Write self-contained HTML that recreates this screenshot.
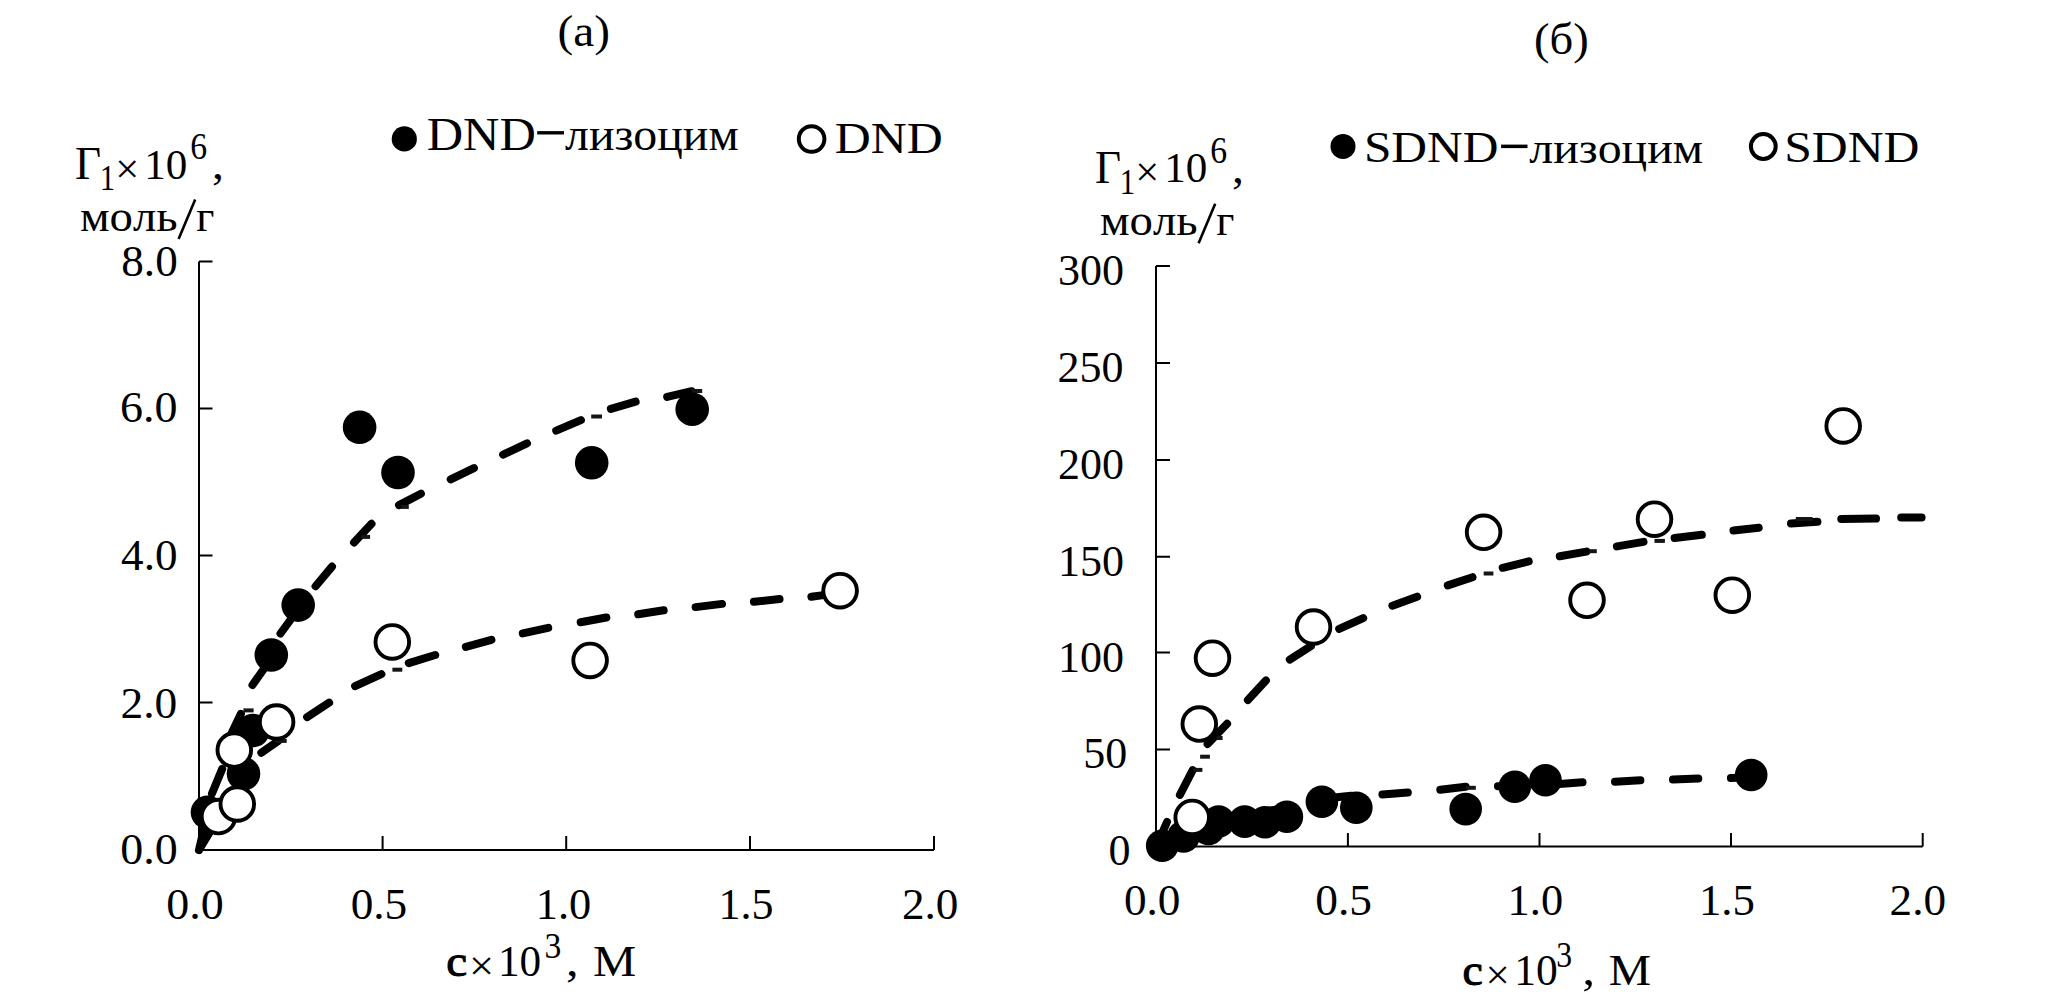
<!DOCTYPE html>
<html><head><meta charset="utf-8"><title>Chart</title>
<style>
html,body{margin:0;padding:0;background:#fff;width:2067px;height:1002px;overflow:hidden}
svg{display:block}
text{font-family:"Liberation Serif",serif;font-kerning:none;fill:#000}
</style></head><body>
<svg width="2067" height="1002" viewBox="0 0 2067 1002">
<rect width="2067" height="1002" fill="#fff"/>
<text transform="translate(557.42 46.00) scale(1.0644 1)" font-size="44.4">(a)</text>
<text transform="translate(1533.95 54.00) scale(1.0530 1)" font-size="44.3">(б)</text>
<circle cx="404.3" cy="138.9" r="12.6"/>
<text transform="translate(426.65 150.00) scale(1.1099 1)" font-size="45.4">DND</text>
<rect x="537.2" y="131.1" width="26.8" height="3.4"/>
<text transform="translate(565.03 150.00) scale(1.0532 1)" font-size="45.4">лизоцим</text>
<circle cx="811.6" cy="139" r="12.8" fill="none" stroke="#000" stroke-width="4"/>
<text transform="translate(834.86 153.30) scale(1.1220 1)" font-size="44.4">DND</text>
<circle cx="1343" cy="146.4" r="12.5"/>
<text transform="translate(1363.89 162.40) scale(1.1133 1)" font-size="44.4">SDND</text>
<rect x="1501.1" y="144.6" width="26.4" height="3.5"/>
<text transform="translate(1529.33 162.60) scale(1.0776 1)" font-size="44.4">лизоцим</text>
<circle cx="1763.3" cy="146.5" r="12.4" fill="none" stroke="#000" stroke-width="4"/>
<text transform="translate(1784.18 161.80) scale(1.1194 1)" font-size="44.4">SDND</text>
<text transform="translate(74.90 179.10) scale(0.9882 1)" font-size="45.6">Γ</text>
<text transform="translate(99.80 189.90) scale(0.8642 1)" font-size="35.5">1</text>
<text transform="translate(115.34 182.72) scale(1.0127 1)" font-size="42">×</text>
<text x="144.21" y="178.50" font-size="43.1">10</text>
<text transform="translate(190.25 158.90) scale(0.9060 1)" font-size="37.2">6</text>
<text transform="translate(212.08 179.37) scale(1.0594 1)" font-size="45">,</text>
<text transform="translate(79.93 230.60) scale(1.0398 1)" font-size="45">моль</text>
<path d="M178.6 239L195.2 199.6" stroke="#000" stroke-width="2.6" fill="none"/>
<text transform="translate(196.30 230.60) scale(0.9830 1)" font-size="45">г</text>
<text transform="translate(1094.90 182.70) scale(0.9882 1)" font-size="45.6">Γ</text>
<text transform="translate(1119.80 193.50) scale(0.8642 1)" font-size="35.5">1</text>
<text transform="translate(1135.34 186.32) scale(1.0127 1)" font-size="42">×</text>
<text x="1164.21" y="182.10" font-size="43.1">10</text>
<text transform="translate(1210.25 162.50) scale(0.9060 1)" font-size="37.2">6</text>
<text transform="translate(1232.08 182.97) scale(1.0594 1)" font-size="45">,</text>
<text transform="translate(1099.93 234.80) scale(1.0398 1)" font-size="45">моль</text>
<path d="M1198.6 243.2L1215.2 203.79999999999998" stroke="#000" stroke-width="2.6" fill="none"/>
<text transform="translate(1216.30 234.80) scale(0.9830 1)" font-size="45">г</text>
<path d="M199 261.4V850H934 M199 261.4H212.5 M199 408.5H212.5 M199 555.6H212.5 M199 702.4H212.5 M382.6 850V836 M566.2 850V836 M750.0 850V836 M934.0 850V836 M1156 266V846.5H1922.7 M1156 266H1170 M1156 363.1H1170 M1156 459.9H1170 M1156 556.7H1170 M1156 652.6H1170 M1156 749.6H1170 M1347.9 846.5V833 M1539.5 846.5V833 M1731.0 846.5V833 M1922.7 846.5V833" fill="none" stroke="#000" stroke-width="2"/>
<text transform="translate(121.28 276.10) scale(1.0262 1)" font-size="44">8.0</text>
<text transform="translate(120.02 422.20) scale(1.0460 1)" font-size="44">6.0</text>
<text transform="translate(121.12 569.50) scale(1.0254 1)" font-size="44">4.0</text>
<text transform="translate(120.50 717.60) scale(1.0333 1)" font-size="44">2.0</text>
<text transform="translate(120.25 864.40) scale(1.0455 1)" font-size="44">0.0</text>
<text transform="translate(166.25 918.60) scale(1.0455 1)" font-size="44">0.0</text>
<text transform="translate(350.68 918.60) scale(1.0290 1)" font-size="44">0.5</text>
<text transform="translate(535.70 918.60) scale(1.0090 1)" font-size="44">1.0</text>
<text x="718.53" y="918.60" font-size="44">1.5</text>
<text transform="translate(901.91 918.60) scale(1.0274 1)" font-size="44">2.0</text>
<text x="1057.98" y="284.70" font-size="44">300</text>
<text x="1057.38" y="381.80" font-size="44">250</text>
<text x="1057.98" y="479.00" font-size="44">200</text>
<text x="1057.98" y="575.60" font-size="44">150</text>
<text x="1057.98" y="671.60" font-size="44">100</text>
<text x="1083.28" y="768.30" font-size="44">50</text>
<text x="1108.58" y="864.90" font-size="44">0</text>
<text transform="translate(1123.88 915.40) scale(1.0281 1)" font-size="44">0.0</text>
<text transform="translate(1315.17 915.40) scale(1.0328 1)" font-size="44">0.5</text>
<text transform="translate(1507.60 915.40) scale(1.0090 1)" font-size="44">1.0</text>
<text transform="translate(1698.96 915.40) scale(1.0179 1)" font-size="44">1.5</text>
<text transform="translate(1889.61 915.40) scale(1.0274 1)" font-size="44">2.0</text>
<text stroke="#000" stroke-width="1.1" transform="translate(446.31 975.90) scale(1.0430 1)" font-size="45">c</text>
<text transform="translate(469.08 980.22) scale(1.0595 1)" font-size="42">×</text>
<text transform="translate(498.00 975.90) scale(0.9942 1)" font-size="43.5">10</text>
<text transform="translate(544.39 957.50) scale(0.9479 1)" font-size="35.5">3</text>
<text transform="translate(565.88 975.90) scale(1.1191 1)" font-size="45">,</text>
<text transform="translate(593.10 975.90) scale(1.0924 1)" font-size="44.5">М</text>
<text stroke="#000" stroke-width="1.1" transform="translate(1462.56 985.00) scale(1.0133 1)" font-size="45">c</text>
<text transform="translate(1485.50 989.32) scale(1.0244 1)" font-size="42">×</text>
<text x="1514.19" y="985.00" font-size="43.5">10</text>
<text transform="translate(1556.18 966.80) scale(0.8933 1)" font-size="35.5">3</text>
<text transform="translate(1582.13 985.00) scale(1.1490 1)" font-size="45">,</text>
<text transform="translate(1608.83 985.00) scale(1.0708 1)" font-size="44.5">М</text>
<path d="M199 850L204.9 824.7 M212 793.5L222.2 768.9 M229.7 737.3L240.9 713.8 M252.5 685L267.5 663.7 M280.5 633.5L295.8 612.5 M315.6 586.3L332 566.6 M354 542.4L371.5 523.8 M399 505.1L420.9 493.7 M450.7 479.3L473.9 468.1 M503.1 454.6L527 443.4 M556.2 430.6L580.9 420.1 M610.9 408.9L635.6 401.7 M667.2 396.9L691.6 391.2 M199 850L212.3 827.9 M230 799L243 777 M261.3 752.8L278.2 740.9 M307.1 717.1L329.1 702.7 M355.1 686.1L381.4 674.1 M408.8 663.1L435.2 655 M465.9 646.9L491.4 639.9 M522.8 633.4L548.2 627.9 M580.7 622.3L606.3 617.5 M638.2 614.3L663.7 610.3 M695.6 607.1L722 603.9 M753.9 601.8L779.5 599.1 M811.4 596.7L823.4 595.1 M1157 845L1167 822 M1179.9 794.9L1192.7 770.1 M1207.6 744L1227.1 723.7 M1247.9 700L1265.9 680.5 M1289.8 659.6L1310.8 646.1 M1339.2 628.9L1363.2 618.1 M1392.4 605.7L1417.1 596.7 M1447.8 585.4L1472.5 577.2 M1502.7 567.8L1528.7 561.4 M1559.8 556.2L1586.4 551.6 M1616.9 546.4L1643.5 541.9 M1674.6 538L1701.8 534.8 M1733.5 530.5L1758.7 527.7 M1791 523.4L1817.4 521.7 M1841.3 519L1876 518.6 M1901.2 517.4L1921.6 517.4 M1262 811L1288 809 M1325 798.5L1351 795.8 M1382.4 794.5L1407.8 792.4 M1440.3 789.8L1465.7 786.7 M1498 786.3L1524 784.5 M1556 784.2L1582.5 782.3 M1615 781.7L1640.4 780.2 M1673 779.6L1698.3 778.6 M1730.9 778L1756 777" fill="none" stroke="#000" stroke-width="8" stroke-linecap="round"/>
<g fill="#151515"><rect x="361" y="534.9" width="9.100000000000023" height="4"/><rect x="401" y="504.9" width="7.800000000000011" height="4"/><rect x="591.2" y="414.5" width="10.799999999999955" height="4"/><rect x="691.7" y="389" width="10.5" height="4"/><rect x="243.4" y="708.4" width="10.199999999999989" height="4"/><rect x="392.4" y="667.7" width="9.900000000000034" height="4"/><rect x="274.8" y="738.9" width="11.899999999999977" height="4"/><rect x="1193.4" y="767.9" width="9.0" height="4"/><rect x="1200.1" y="754.7" width="9.800000000000182" height="4"/><rect x="1216.6" y="736" width="6.0" height="4"/><rect x="1483.7" y="571.5" width="9.700000000000045" height="4"/><rect x="1589" y="549.2" width="7.7999999999999545" height="4"/><rect x="1654.5" y="538.9" width="10.400000000000091" height="4"/><rect x="1795.8" y="517" width="16.799999999999955" height="4"/><rect x="1465.7" y="785.8" width="10.099999999999909" height="4"/></g>
<g><circle cx="207.5" cy="812.3" r="16.8"/><circle cx="243.5" cy="773.8" r="16.8"/><circle cx="253" cy="730.5" r="16.8"/><circle cx="271.3" cy="655" r="16.8"/><circle cx="298.2" cy="605.1" r="16.8"/><circle cx="359.6" cy="427.3" r="16.8"/><circle cx="398" cy="472.5" r="16.8"/><circle cx="591.7" cy="462.8" r="16.8"/><circle cx="692.2" cy="409.2" r="16.8"/></g>
<g fill="#fff" stroke="#000" stroke-width="3.9"><circle cx="218.5" cy="816.6" r="16.8"/><circle cx="237.3" cy="804" r="16.8"/><circle cx="234.3" cy="750.1" r="16.8"/><circle cx="276.6" cy="722" r="16.8"/><circle cx="392.3" cy="641.9" r="16.8"/><circle cx="590.1" cy="660.4" r="16.8"/><circle cx="840.1" cy="590.7" r="16.8"/></g>
<g><circle cx="1162.2" cy="845.7" r="16.3"/><circle cx="1183.5" cy="836.5" r="16.3"/><circle cx="1208.5" cy="829" r="16.3"/><circle cx="1218.6" cy="821.5" r="16.3"/><circle cx="1244.7" cy="821.6" r="16.3"/><circle cx="1265" cy="822.2" r="16.3"/><circle cx="1286.9" cy="816.8" r="16.3"/><circle cx="1321.9" cy="801.7" r="16.3"/><circle cx="1356.3" cy="807.7" r="16.3"/><circle cx="1465.7" cy="809.1" r="16.3"/><circle cx="1514.8" cy="786.7" r="16.3"/><circle cx="1545.5" cy="780.2" r="16.3"/><circle cx="1751.2" cy="775" r="16.3"/></g>
<g fill="#fff" stroke="#000" stroke-width="3.9"><circle cx="1192.2" cy="817.4" r="16.8"/><circle cx="1199.3" cy="724.1" r="16.8"/><circle cx="1212.5" cy="658.2" r="16.8"/><circle cx="1313.5" cy="627" r="16.8"/><circle cx="1483.6" cy="532.3" r="16.8"/><circle cx="1587" cy="600.3" r="16.8"/><circle cx="1654.5" cy="519.2" r="16.8"/><circle cx="1732.3" cy="595.2" r="16.8"/><circle cx="1843.2" cy="425.9" r="16.8"/></g>
</svg>
</body></html>
